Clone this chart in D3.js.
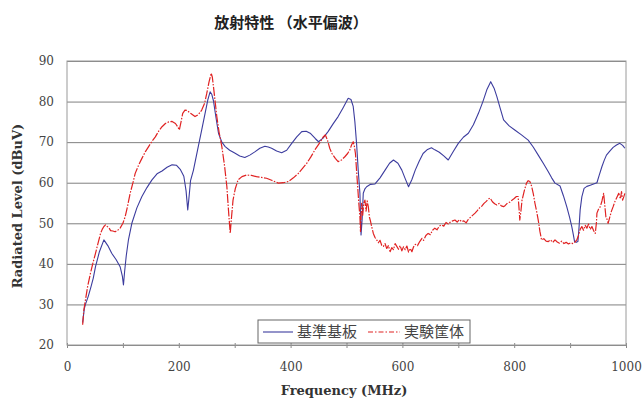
<!DOCTYPE html>
<html>
<head>
<meta charset="utf-8">
<script src="https://cdn.jsdelivr.net/npm/d3@7"></script>
<style>
  body { margin: 0; background: #fff; }
  svg { display: block; }
  .tick text { font-family: "DejaVu Serif", serif; font-size: 12px; fill: #444; }
</style>
</head>
<body>
<div id="chart"></div>
<script>
// reference board (blue, solid)
const baseBoard = [[28,25.5],[31,29],[33,30],[38,32],[43,34.4],[47,36.5],[51,39.3],[58,43],[66,45.9],[73,44.5],[80,42.6],[88,41],[95,39.3],[99,37],[101,34.8],[103,38],[106,42],[110,46],[116,50],[125,53.8],[134,56.6],[143,58.8],[152,60.7],[161,62.2],[170,62.9],[179,63.8],[188,64.4],[196,64.3],[203,63.2],[209,61.6],[213,58],[216,53.3],[218,56],[221,60.5],[226,63],[235,69],[241,73],[247,77.1],[252,80.5],[256,82.4],[259,81.8],[262,80.2],[266,76.5],[271,72.2],[277,70],[283,68.9],[291,68],[300,67.3],[309,66.6],[318,66.2],[327,66.8],[336,67.6],[345,68.5],[354,69],[360,68.8],[366,68.5],[375,67.8],[384,67.4],[393,68],[402,69.7],[411,71.3],[420,72.6],[428,72.7],[435,72.2],[444,70.9],[450,70.1],[458,71],[467,72.6],[476,74.5],[485,76.3],[494,78.5],[503,80.8],[508,80.5],[512,78.8],[515,75],[518,69.7],[521,63],[524,57.4],[526,47.1],[528,51],[530,57.4],[533,58.5],[536,59.0],[543,59.6],[551,59.7],[560,61.2],[569,63.1],[577,64.8],[584,65.6],[592,64.8],[599,63.1],[605,61],[611,59.0],[617,60.8],[623,63.1],[630,65.3],[637,67.2],[645,68.2],[652,68.6],[658,68.1],[666,67.5],[674,66.6],[682,65.6],[691,67.7],[700,69.7],[709,71.2],[718,72.2],[727,74.3],[736,77.1],[744,80],[751,82.9],[758,84.9],[764,83.3],[769,81.2],[775,78.3],[781,75.5],[791,74],[801,73.0],[813,71.8],[825,70.5],[834,68.8],[843,66.8],[852,64.8],[861,62.7],[867,61.2],[873,59.9],[882,59.2],[888,56.8],[894,54.1],[899,51.5],[903,49.2],[906,47],[908,45.5],[911,45.3],[914,45.5],[916,49],[918,53.3],[921,56.5],[925,58.6],[930,59.1],[936,59.4],[942,59.7],[948,60],[952,61.8],[957,64],[961,65.5],[965,66.8],[971,67.8],[977,68.7],[983,69.3],[989,69.7],[994,69.2],[998,68.5]]

// test enclosure (red, dash-dot)
const testCase = [[28,25],[30,28.5],[33,31.1],[37,34.5],[42,37.7],[46,40],[51,42.6],[55,44.8],[60,47.5],[63,48.5],[66,49.2],[69,49.6],[72,49.2],[75,48.9],[78,48.2],[82,48.1],[86,47.9],[90,48.2],[95,48.8],[100,50],[104,51.6],[108,54],[113,57.4],[118,60],[122,62.3],[128,64.3],[134,66.0],[140,67.6],[146,68.9],[152,70.2],[158,71.3],[164,72.7],[170,73.8],[176,74.6],[182,75.0],[188,75.1],[194,74.6],[198,73.8],[201,73.0],[204,75],[207,77.1],[211,77.9],[215,77.8],[221,77.1],[229,76.3],[235,76.8],[241,77.9],[246,79.5],[250,82.0],[254,84.8],[258,87],[260,86],[262,83.7],[265,80],[268,76.3],[272,72.5],[277,68.9],[282,64],[286,59.0],[289,53],[292,47.5],[294,51],[297,55.7],[301,58.5],[306,60.7],[313,61.5],[321,61.9],[330,61.8],[339,61.5],[348,61.3],[357,61.1],[366,60.6],[378,59.9],[387,60],[396,60.3],[405,61.2],[414,62.3],[421,63.5],[429,64.8],[436,66.3],[444,68.2],[452,69.8],[458,71.2],[462,71.8],[466,70.5],[470,68.5],[474,67.2],[480,66],[485,65.2],[491,65.6],[497,66.4],[502,67.2],[506,68.1],[509,69.3],[512,70.1],[514,69],[516,67.2],[518,63],[520,59.0],[522,55],[524,51.6],[525,48],[527,54.9],[529,52],[531,55],[533,55.7],[535,53],[537,55.5],[539,54.1],[541,51.5],[543,50.5],[545,49.2],[548,47.5],[551,46.5],[554,45.9],[557,45.2],[560,45.8],[563,44.6],[566,44.3],[569,45],[572,43.8],[575,44.5],[578,43],[581,44],[584,43.5],[587,45],[590,44.3],[593,43.6],[596,44.5],[599,43.2],[602,44.2],[605,43.5],[608,44.4],[611,42.9],[614,43.8],[617,43],[620,44.2],[623,44.8],[627,44.5],[631,45.5],[635,46.3],[638,45.8],[642,47],[646,47.5],[650,47.2],[654,48.3],[658,48.8],[662,48.4],[666,49.3],[670,49.6],[674,49.3],[678,50.2],[682,49.8],[686,50.3],[690,50.6],[694,50.8],[698,50.3],[702,50.9],[706,50.4],[710,50.6],[714,50.1],[718,51],[722,51.5],[726,52],[730,52.5],[734,53.1],[738,53.8],[742,54.2],[746,54.9],[750,55.4],[754,56],[757,56.2],[761,55.3],[765,54.8],[769,54.5],[773,54.9],[777,54.3],[781,54.1],[784,54.4],[788,55],[792,55.2],[796,55.7],[800,56.1],[804,56.6],[807,56.6],[809,53],[810,50.8],[812,53],[814,55.7],[818,58],[822,59.9],[825,60.5],[828,60.3],[831,59.2],[834,57.4],[837,55],[840,53],[843,50.8],[846,48],[849,45.9],[853,46.2],[857,45.6],[861,45.5],[865,45.9],[869,45.3],[873,45.9],[877,45.4],[881,45.1],[885,45.6],[889,45.0],[893,45.3],[897,44.9],[901,45.2],[905,45.0],[909,45.4],[912,45.9],[915,47],[918,48.5],[921,49.2],[924,48.3],[927,49.5],[930,48.8],[933,49.8],[936,48.5],[939,49.2],[942,48.2],[945,47.5],[947,50],[948,52.5],[951,53.5],[954,54.1],[957,55.5],[960,57.4],[962,54.5],[964,51.6],[966,51],[968,50],[971,51.5],[974,53],[977,54.1],[980,55.3],[984,56.5],[987,57.4],[990,56],[992,57.8],[994,55.7],[996,56.5],[998,57.4]]

const seriesNames = ["基準基板", "実験筐体"]
const xTicks = [0, 200, 400, 600, 800, 1000]
const xMinorTicks = [0, 100, 200, 300, 400, 500, 600, 700, 800, 900, 1000]
const yTicks = [20, 30, 40, 50, 60, 70, 80, 90]

const width = 644, height = 403
const margin = ({ top: 61, right: 18, bottom: 58, left: 67 })

const svg = d3.select("#chart")
    .append("svg")
    .attr("width", width)
    .attr("height", height)

const x = d3.scaleLinear().domain([0, 1000]).range([margin.left, width - margin.right])
const y = d3.scaleLinear().domain([20, 90]).range([height - margin.bottom, margin.top])

// grid + y labels
svg.append("g")
    .attr("transform", `translate(${margin.left},0)`)
    .call(d3.axisLeft(y).tickValues(yTicks).tickSize(-(x.range()[1] - x.range()[0])).tickPadding(13))
    .call(g => g.select(".domain").remove())
    .call(g => g.selectAll(".tick line").attr("stroke", "#808080"))

// minor ticks on the bottom
svg.append("g")
    .attr("transform", `translate(0,${y(20)})`)
    .call(d3.axisBottom(x).tickValues(xMinorTicks).tickFormat("").tickSize(3))
    .call(g => g.select(".domain").remove())
    .call(g => g.selectAll(".tick line").attr("stroke", "#888").attr("y1", -2))

svg.append("g")
    .attr("transform", `translate(0,${y(20)})`)
    .call(d3.axisBottom(x).tickValues(xTicks).tickFormat(d3.format("d")).tickSize(0).tickPadding(17))
    .call(g => g.select(".domain").remove())

// plot frame
svg.append("rect")
    .attr("x", x(0)).attr("y", y(90))
    .attr("width", x(1000) - x(0)).attr("height", y(20) - y(90))
    .attr("fill", "none").attr("stroke", "#9a9a9a")

const line = d3.line().x(d => x(d[0])).y(d => y(d[1]))

svg.append("path")
    .datum(baseBoard)
    .attr("fill", "none")
    .attr("stroke", "#3c3c9e")
    .attr("stroke-width", 1.1)
    .attr("stroke-linejoin", "round")
    .attr("d", line)

svg.append("path")
    .datum(testCase)
    .attr("fill", "none")
    .attr("stroke", "#e02222")
    .attr("stroke-width", 1.2)
    .attr("stroke-dasharray", "9,1.5,1.5,1.5")
    .attr("stroke-linejoin", "round")
    .attr("d", line)

// legend
const lg = svg.append("g").attr("transform", "translate(258,320)")
lg.append("rect").attr("width", 212).attr("height", 23)
    .attr("fill", "#fff").attr("stroke", "#666")
lg.append("line").attr("x1", 5).attr("x2", 35).attr("y1", 12).attr("y2", 12)
    .attr("stroke", "#3c3c9e").attr("stroke-width", 1.1)
lg.append("line").attr("x1", 110).attr("x2", 142).attr("y1", 12).attr("y2", 12)
    .attr("stroke", "#e02222").attr("stroke-width", 1.1).attr("stroke-dasharray", "5,2,1.5,2")
lg.selectAll("text.name")
    .data(seriesNames)
    .join("text")
    .attr("class", "name")
    .attr("x", (d, i) => i === 0 ? 39 : 146)
    .attr("y", 17)
    .attr("font-family", "Noto Sans CJK JP")
    .attr("font-size", 15)
    .attr("fill", "#444")
    .text(d => d)

// titles
svg.append("text")
    .attr("x", 291).attr("y", 28)
    .attr("text-anchor", "middle")
    .attr("font-family", "Noto Sans CJK JP")
    .attr("font-weight", "bold")
    .attr("font-size", 15)
    .attr("fill", "#222")
    .text("放射特性 （水平偏波）")

svg.append("text")
    .attr("x", 344).attr("y", 395)
    .attr("text-anchor", "middle")
    .attr("font-family", "DejaVu Serif")
    .attr("font-weight", "bold")
    .attr("font-size", 13)
    .attr("fill", "#333")
    .text("Frequency (MHz)")

svg.append("text")
    .attr("transform", `translate(22,${(y(20) + y(90)) / 2 + 3}) rotate(-90)`)
    .attr("text-anchor", "middle")
    .attr("font-family", "DejaVu Serif")
    .attr("font-weight", "bold")
    .attr("font-size", 13)
    .attr("fill", "#333")
    .text("Radiated Level (dBuV)")
</script>
</body>
</html>
